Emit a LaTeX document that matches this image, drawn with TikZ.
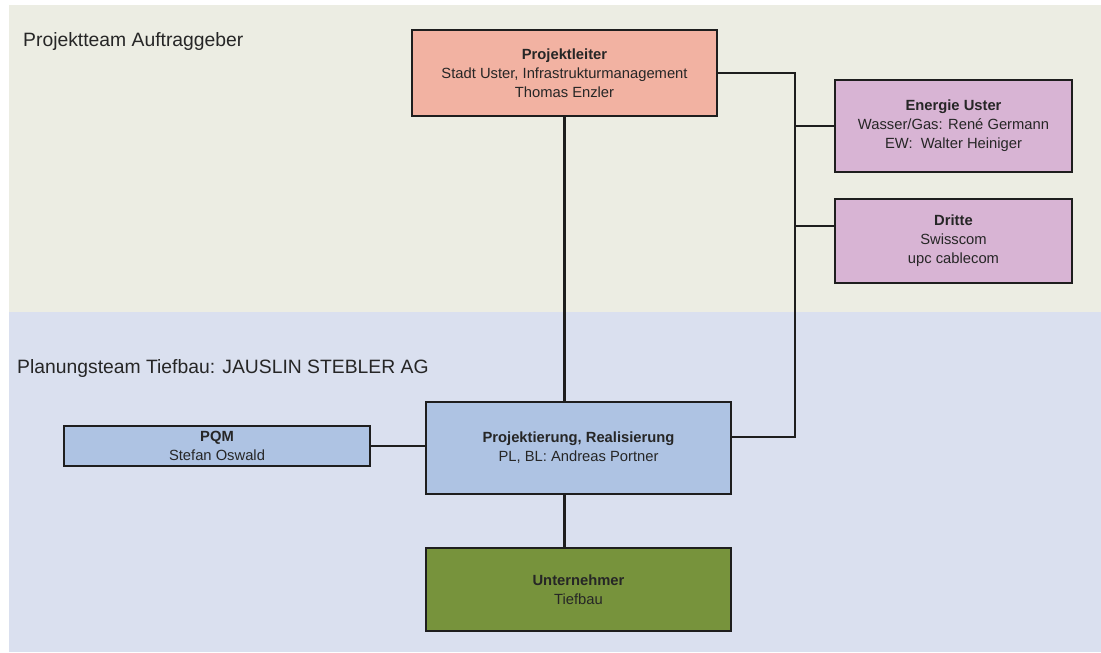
\documentclass[tikz,border=0pt]{standalone}
\usepackage{fontspec}
\setmainfont{Liberation Sans}
\usepackage{xcolor}
\usetikzlibrary{positioning}

\definecolor{topband}{HTML}{ECEDE3}
\definecolor{botband}{HTML}{DAE0EF}
\definecolor{boxline}{HTML}{1E1E1E}
\definecolor{textgrey}{HTML}{262626}
\definecolor{leiter}{HTML}{F2B2A2}
\definecolor{extern}{HTML}{D8B4D4}
\definecolor{planung}{HTML}{AEC3E3}
\definecolor{unter}{HTML}{77933C}

\begin{document}
\begin{tikzpicture}[x=0.02cm,y=-0.02cm,
  box/.style={draw=boxline,line width=1.3pt,align=center,inner sep=0pt,
    text=textgrey,font=\fontsize{8.4}{10.8}\selectfont},
  link/.style={draw=boxline,line width=1.4pt},
  team/.style={anchor=west,text=textgrey,font=\fontsize{11}{13}\selectfont}]
\useasboundingbox (0,0) rectangle (1101,652);
\fill[topband](9,5) rectangle (1101,312);
\fill[botband](9,312) rectangle (1101,652);
\node[team] (auftrag) at (17,42) {Projektteam Auftraggeber};
\node[team] (planteam) at (11,368) {Planungsteam Tiefbau: JAUSLIN STEBLER AG};
% boxes
\node[box,fill=leiter,minimum width=6.1cm,minimum height=1.72cm] (pl) at (564.5,73)
  {\textbf{Projektleiter}\\Stadt Uster, Infrastrukturmanagement\\Thomas Enzler};
\node[box,fill=extern,minimum width=4.74cm,minimum height=1.84cm] (eu) at (953.5,126)
  {\textbf{Energie Uster}\\Wasser/Gas: René Germann\\EW:\ \ Walter Heiniger};
\node[box,fill=extern,minimum width=4.74cm,minimum height=1.68cm] (dr) at (953.5,241)
  {\textbf{Dritte}\\Swisscom\\upc cablecom};
\node[box,fill=planung,minimum width=6.1cm,minimum height=1.84cm] (pr) at (578.5,448)
  {\textbf{Projektierung, Realisierung}\\PL, BL: Andreas Portner};
\node[box,fill=planung,minimum width=6.12cm,minimum height=0.8cm] (pqm) at (217,446)
  {\textbf{PQM}\\Stefan Oswald};
\node[box,fill=unter,minimum width=6.1cm,minimum height=1.66cm] (un) at (578.5,589.5)
  {\textbf{Unternehmer}\\Tiefbau};
% connectors
\coordinate (bus) at (795,437);
\draw[link](pl.east) -| (bus) -- (bus -| pr.east);
\draw[link](eu.west) -- (eu.west -| bus);
\draw[link]([yshift=8.5pt]dr.west) coordinate (drw) -- (drw -| bus);
\draw[link](pl.south) -- (pl.south |- pr.north);
\draw[link](pl.south |- pr.south) -- (pl.south |- un.north);
\draw[link](pqm.east) -- (pqm.east -| pr.west);
\end{tikzpicture}
\end{document}
